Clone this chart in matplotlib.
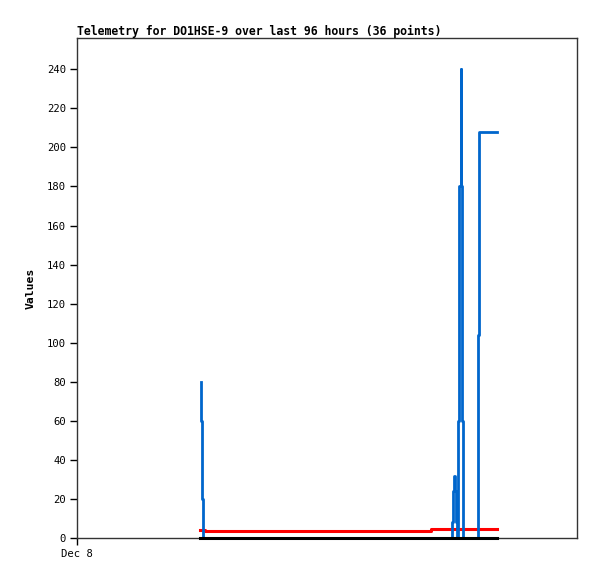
import matplotlib
matplotlib.use("Agg")
import matplotlib.pyplot as plt

# Data (hours since Dec 8 00:00), drawn as post-steps
blue_t = [5.93, 5.97, 6.02, 6.06, 18.02, 18.06, 18.10, 18.14, 18.18, 18.22,
          18.29, 18.36, 18.41, 18.45, 18.50, 18.55, 19.25, 19.30, 20.16]
blue_v = [80, 60, 20, 0, 8, 24, 32, 24, 8, 0,
          60, 180, 240, 180, 60, 0, 104, 208, 208]

red_t = [5.90, 6.14, 16.99, 20.16]
red_v = [4.2, 3.7, 4.8, 4.8]

black_t = [5.90, 20.16]
black_v = [0, 0]

yticks = list(range(0, 241, 20))
xtick_labels = ["Dec 8"]

font = "DejaVu Sans Mono"

fig = plt.figure(figsize=(5.97, 5.79), dpi=100)
ax = fig.add_axes([77 / 597, 41 / 579, 500 / 597, 500 / 579])

ax.plot(red_t, red_v, drawstyle="steps-post", color="#ff0000", lw=2.2, zorder=2)
ax.plot(blue_t, blue_v, drawstyle="steps-post", color="#0066cc", lw=2.0, zorder=3)
ax.plot(black_t, black_v, color="#000000", lw=2.2, zorder=4, clip_on=False)

ax.set_xlim(0, 24)
ax.set_ylim(0, 256)
ax.set_yticks(yticks)
ax.set_yticklabels([str(v) for v in yticks], family=font, fontsize=7.6)
ax.set_xticks([0])
ax.set_xticklabels(xtick_labels, family=font, fontsize=7.6)
ax.tick_params(direction="out", length=5, width=1, color="black", pad=3)

for s in ax.spines.values():
    s.set_color("#333333")
    s.set_linewidth(1)

ax.set_ylabel("Values", family=font, fontsize=8.2, fontweight="bold", labelpad=8)
ax.set_title("Telemetry for DO1HSE-9 over last 96 hours (36 points)",
             family=font, fontsize=8.3, fontweight="bold", loc="left", pad=2)

fig.savefig("out.png", dpi=100)
